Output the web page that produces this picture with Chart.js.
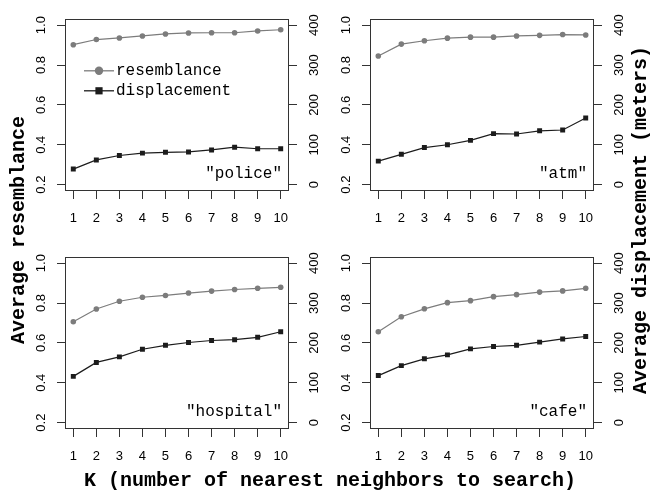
<!DOCTYPE html>
<html><head><meta charset="utf-8">
<script src="https://cdn.jsdelivr.net/npm/chart.js@4/dist/chart.umd.min.js"></script>
<style>
html,body{margin:0;padding:0;background:#fff;}
#wrap{position:relative;width:655px;height:491px;overflow:hidden;background:#fff;}
canvas{position:absolute;}
.title{position:absolute;font-family:"Liberation Mono","Courier New",monospace;font-weight:bold;font-size:20px;white-space:nowrap;color:#000;line-height:20px;text-align:center;}
</style></head><body>
<div id="wrap">
 <canvas id="c0"></canvas>
 <canvas id="c1"></canvas>
 <canvas id="c2"></canvas>
 <canvas id="c3"></canvas>
 <div class="title" id="xt" style="left:0;width:660px;top:471px;">K (number of nearest neighbors to search)</div>
 <div class="title" id="yl" style="left:-131px;width:300px;top:220px;transform:rotate(-90deg);">Average resemblance</div>
 <div class="title" id="yr" style="left:441px;width:400px;top:210px;transform:rotate(-90deg);">Average displacement (meters)</div>
</div>
<script>
// ---- data ----
const K = [1, 2, 3, 4, 5, 6, 7, 8, 9, 10];
const panelNames = ['"police"', '"atm"', '"hospital"', '"cafe"'];
const seriesNames = ['resemblance', 'displacement'];
const resPolice   = [0.902, 0.928, 0.936, 0.946, 0.956, 0.961, 0.962, 0.962, 0.971, 0.977];
const dispPolice  = [39, 62, 73, 79, 81, 82, 87, 94, 90, 90];
const resAtm      = [0.845, 0.905, 0.922, 0.935, 0.940, 0.940, 0.946, 0.949, 0.953, 0.951];
const dispAtm     = [59, 76, 93, 100, 111, 128, 127, 135, 137, 167];
const resHospital = [0.706, 0.770, 0.809, 0.829, 0.838, 0.850, 0.860, 0.868, 0.874, 0.879];
const dispHospital= [116, 151, 165, 184, 194, 201, 206, 208, 214, 228];
const resCafe     = [0.656, 0.731, 0.771, 0.802, 0.812, 0.832, 0.842, 0.855, 0.861, 0.874];
const dispCafe    = [118, 143, 160, 170, 185, 191, 194, 202, 210, 216];
const leftTicks  = [0.2, 0.4, 0.6, 0.8, 1.0];
const rightTicks = [0, 100, 200, 300, 400];

const resSeries  = [resPolice, resAtm, resHospital, resCafe];
const dispSeries = [dispPolice, dispAtm, dispHospital, dispCafe];

// ---- layout / style ----
const boxes = [
  {x: 65, y: 14}, {x: 370, y: 14},
  {x: 65, y: 252}, {x: 370, y: 252}
];
const BW = 224, BH = 177, PADL = 45, PADR = 45, PADT = 10, PADB = 50;
const GRAY = '#7c7c7c', DARK = '#1c1c1c', AXC = '#333333';
const TF = '"Liberation Sans", Arial, Helvetica, sans-serif';
const MF = '"Liberation Mono", "Courier New", monospace';

function panelPlugin(idx) {
  return {
    id: 'panel' + idx,
    beforeDatasetsDraw(chart) {
      const a = chart.chartArea, c = chart.ctx;
      c.save();
      c.strokeStyle = AXC; c.lineWidth = 1;
      c.strokeRect(Math.round(a.left) + 0.5, Math.round(a.top) + 0.5,
                   Math.round(a.right - a.left) - 1, Math.round(a.bottom - a.top) - 1);
      c.restore();
    },
    afterDraw(chart) {
      const a = chart.chartArea, c = chart.ctx;
      c.save();
      c.fillStyle = '#000';
      c.font = '16px ' + MF;
      c.textAlign = 'right'; c.textBaseline = 'middle';
      c.fillText(panelNames[idx], a.right - 7, a.bottom - 17);
      if (idx === 0) {
        const items = [
          {t: seriesNames[0], col: GRAY, shape: 'circle', y: a.top + 52},
          {t: seriesNames[1], col: DARK, shape: 'rect', y: a.top + 72}
        ];
        items.forEach(it => {
          c.strokeStyle = it.col; c.fillStyle = it.col; c.lineWidth = 1.3;
          c.beginPath(); c.moveTo(a.left + 19, it.y); c.lineTo(a.left + 49, it.y); c.stroke();
          c.beginPath();
          if (it.shape === 'circle') { c.arc(a.left + 34, it.y, 4.2, 0, Math.PI * 2); c.fill(); }
          else { c.fillRect(a.left + 34 - 3.6, it.y - 3.6, 7.2, 7.2); }
          c.fillStyle = '#000';
          c.font = '16px ' + MF;
          c.textAlign = 'left'; c.textBaseline = 'middle';
          c.fillText(it.t, a.left + 51, it.y);
        });
      }
      c.restore();
    }
  };
}

const tickFont = {family: TF, size: 13};
boxes.forEach((b, i) => {
  const cv = document.getElementById('c' + i);
  const W = BW + PADL + PADR, H = BH + PADT + PADB;
  cv.width = W; cv.height = H;
  cv.style.left = (b.x - PADL) + 'px';
  cv.style.top = (b.y - PADT) + 'px';
  cv.style.width = W + 'px'; cv.style.height = H + 'px';
  new Chart(cv.getContext('2d'), {
    type: 'line',
    data: {
      datasets: [
        {
          label: seriesNames[0], yAxisID: 'y',
          data: K.map((k, j) => ({x: k, y: resSeries[i][j]})),
          borderColor: GRAY, backgroundColor: GRAY, pointBackgroundColor: GRAY,
          borderWidth: 1.2, pointStyle: 'circle', pointRadius: 2.8, pointBorderWidth: 0,
          tension: 0, fill: false
        },
        {
          label: seriesNames[1], yAxisID: 'y2',
          data: K.map((k, j) => ({x: k, y: dispSeries[i][j]})),
          borderColor: DARK, backgroundColor: DARK, pointBackgroundColor: DARK,
          borderWidth: 1.2, pointStyle: 'rect', pointRadius: 3.5, pointBorderWidth: 0,
          tension: 0, fill: false
        }
      ]
    },
    options: {
      responsive: false, animation: false, devicePixelRatio: 1,
      layout: {padding: {top: PADT, left: 0, right: 0, bottom: 0}},
      plugins: {legend: {display: false}, tooltip: {enabled: false}},
      scales: {
        x: {
          type: 'linear', min: 0.64, max: 10.36,
          afterBuildTicks: s => { s.ticks = K.map(v => ({value: v})); },
          afterFit: s => { s.height = PADB; },
          grid: {drawOnChartArea: false, drawTicks: true, tickLength: 8, tickColor: AXC, tickWidth: 1},
          border: {display: false},
          ticks: {font: tickFont, color: '#000', padding: 12, maxRotation: 0, minRotation: 0, autoSkip: false,
                  callback: v => String(v)}
        },
        y: {
          position: 'left', min: 0.168, max: 1.032,
          afterBuildTicks: s => { s.ticks = leftTicks.map(v => ({value: v})); },
          afterFit: s => { s.width = PADL; },
          grid: {drawOnChartArea: false, drawTicks: true, tickLength: 8, tickColor: AXC, tickWidth: 1},
          border: {display: false},
          ticks: {font: tickFont, color: '#000', padding: 7, minRotation: 90, maxRotation: 90,
                  crossAlign: 'center', callback: v => v.toFixed(1)}
        },
        y2: {
          position: 'right', min: -16, max: 416,
          afterBuildTicks: s => { s.ticks = rightTicks.map(v => ({value: v})); },
          afterFit: s => { s.width = PADR; },
          grid: {drawOnChartArea: false, drawTicks: true, tickLength: 8, tickColor: AXC, tickWidth: 1},
          border: {display: false},
          ticks: {font: tickFont, color: '#000', padding: 7, minRotation: 90, maxRotation: 90,
                  crossAlign: 'center', callback: v => String(v)}
        }
      }
    },
    plugins: [panelPlugin(i)]
  });
});
</script>
</body></html>
